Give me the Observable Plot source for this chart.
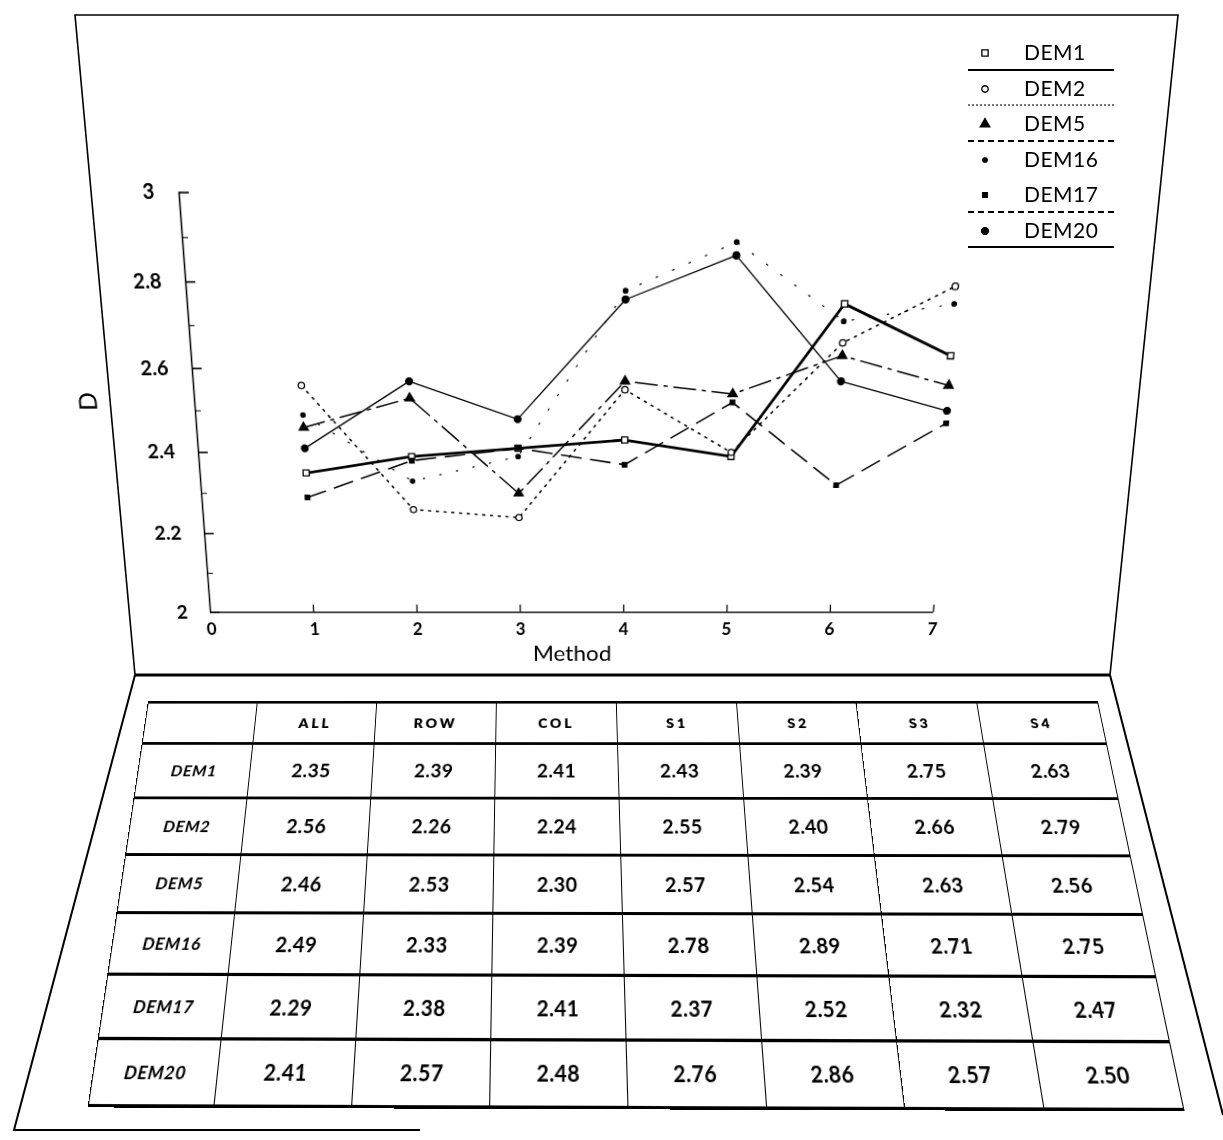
<!DOCTYPE html>
<html><head><meta charset="utf-8">
<script src="https://cdn.jsdelivr.net/npm/d3@7"></script>
<script src="https://cdn.jsdelivr.net/npm/@observablehq/plot@0.6"></script>
<style>
body{margin:0;background:#fff;font-family:"Lato","Noto Sans",sans-serif;color:#000;}
#page{position:relative;width:1223px;height:1140px;overflow:hidden;background:#fff;}
#upper{position:absolute;left:0;top:0;transform-origin:0 0;}
#lower{position:absolute;left:0;top:0;transform-origin:0 0;}
#frame{position:absolute;left:0;top:0;pointer-events:none;}
#legend{position:absolute;left:966px;top:36px;width:152px;}
.lrow{position:relative;height:35.5px;}
.lsym{position:absolute;left:12px;top:10px;}
.ltxt{position:absolute;left:58px;top:3px;font-size:21px;font-family:"Lato",sans-serif;letter-spacing:0.5px;}
.lrule{position:absolute;left:2px;right:4px;bottom:1px;height:0;}
#tbl{width:100%;height:100%;border-collapse:collapse;table-layout:fixed;}
#tbl td{border-left:1.3px solid #000;border-right:1.3px solid #000;border-top:3px solid #000;border-bottom:3px solid #000;text-align:center;padding:0;}
#tbl td.rl{font-style:italic;font-weight:700;font-size:17px;letter-spacing:0.6px;}
#tbl tr.hd td{font-weight:800;font-size:15px;letter-spacing:3px;}
#tbl td.v{font-weight:700;font-size:20px;letter-spacing:0.4px;}
</style></head>
<body>
<div id="page">
  <div id="upper"></div>
  <div id="lower"><table id="tbl"></table></div>
  <svg id="frame" width="1223" height="1140"></svg>
  <div id="legend"></div>
</div>
<script>
// ---- data ----
const methods = ["ALL", "ROW", "COL", "S1", "S2", "S3", "S4"];
const methodX = [1, 2, 3, 4, 5, 6, 7];
const seriesNames = ["DEM1", "DEM2", "DEM5", "DEM16", "DEM17", "DEM20"];
const DEM1  = [2.35, 2.39, 2.41, 2.43, 2.39, 2.75, 2.63];
const DEM2  = [2.56, 2.26, 2.24, 2.55, 2.40, 2.66, 2.79];
const DEM5  = [2.46, 2.53, 2.30, 2.57, 2.54, 2.63, 2.56];
const DEM16 = [2.49, 2.33, 2.39, 2.78, 2.89, 2.71, 2.75];
const DEM17 = [2.29, 2.38, 2.41, 2.37, 2.52, 2.32, 2.47];
const DEM20 = [2.41, 2.57, 2.48, 2.76, 2.86, 2.57, 2.50];
const seriesValues = [DEM1, DEM2, DEM5, DEM16, DEM17, DEM20];
const yMajor = [2, 2.2, 2.4, 2.6, 2.8, 3];
const yMajorLabels = ["2", "2.2", "2.4", "2.6", "2.8", "3"];
const yMinor = [2.1, 2.3, 2.5, 2.7, 2.9];
const xTickValues = [0, 1, 2, 3, 4, 5, 6, 7];

// ---- styles (kept apart from data) ----
const lineStyle = {
  DEM1:  {strokeWidth: 2.8, dash: null},
  DEM2:  {strokeWidth: 1.6, dash: "2,6"},
  DEM5:  {strokeWidth: 1.5, dash: "22,7,3,7"},
  DEM16: {strokeWidth: 1.2, dash: "1.5,16"},
  DEM17: {strokeWidth: 1.6, dash: "20,10"},
  DEM20: {strokeWidth: 1.3, dash: null}
};
const dotStyle = {
  DEM1:  {symbol: "square",   fill: "white", r: 3.5},
  DEM2:  {symbol: "circle",   fill: "white", r: 3.2},
  DEM5:  {symbol: "triangle", fill: "black", r: 3.5},
  DEM16: {symbol: "circle",   fill: "black", r: 2.2},
  DEM17: {symbol: "square",   fill: "black", r: 2.6},
  DEM20: {symbol: "circle",   fill: "black", r: 3.4}
};
const legendRule = {
  DEM1: "2px solid #000", DEM2: "2px dotted #777", DEM5: "2px dashed #000",
  DEM16: "none", DEM17: "2px dashed #000", DEM20: "2px solid #000"
};

// ---- perspective helpers (the page is a tilted scan) ----
function adj(m){return [m[4]*m[8]-m[5]*m[7], m[2]*m[7]-m[1]*m[8], m[1]*m[5]-m[2]*m[4],
  m[5]*m[6]-m[3]*m[8], m[0]*m[8]-m[2]*m[6], m[2]*m[3]-m[0]*m[5],
  m[3]*m[7]-m[4]*m[6], m[1]*m[6]-m[0]*m[7], m[0]*m[4]-m[1]*m[3]];}
function mm(a,b){const c=[];for(let i=0;i<3;i++)for(let j=0;j<3;j++){let s=0;for(let k=0;k<3;k++)s+=a[3*i+k]*b[3*k+j];c[3*i+j]=s;}return c;}
function mv(m,v){return [m[0]*v[0]+m[1]*v[1]+m[2]*v[2], m[3]*v[0]+m[4]*v[1]+m[5]*v[2], m[6]*v[0]+m[7]*v[1]+m[8]*v[2]];}
function basis(p){const m=[p[0],p[2],p[4],p[1],p[3],p[5],1,1,1];const v=mv(adj(m),[p[6],p[7],1]);return mm(m,[v[0],0,0,0,v[1],0,0,0,v[2]]);}
function proj(src,dst){return mm(basis(dst), adj(basis(src)));}
function apply(M,x,y){const r=mv(M,[x,y,1]);return [r[0]/r[2], r[1]/r[2]];}
function toQuad(el,w,h,dst){
  let t=proj([0,0,w,0,0,h,w,h],dst);
  for(let i=0;i<9;i++) t[i]=t[i]/t[8];
  el.style.width=w+"px"; el.style.height=h+"px";
  el.style.transform="matrix3d("+[t[0],t[3],0,t[6],t[1],t[4],0,t[7],0,0,1,0,t[2],t[5],0,t[8]].join(",")+")";
}

// ---- upper panel: chart ----
const W1 = 1040, H1 = 660;
const upperQuad = [75,15, 1178,15, 135,675, 1110,675];
const inv1 = proj(upperQuad, [0,0,W1,0,0,H1,W1,H1]);
const pBL = apply(inv1, 210, 612), pTL = apply(inv1, 168, 192), pBR = apply(inv1, 933, 612);
const pD = apply(inv1, 90, 420), pM = apply(inv1, 572, 660);
const mL = pBL[0], mB = H1 - pBL[1], mT = pTL[1], mR = W1 - pBR[0];

const rows = seriesNames.flatMap((name, si) =>
  methodX.map((x, i) => ({series: name, method: methods[i], x, D: seriesValues[si][i]})));

const marks = [
  Plot.ruleX([0], {strokeWidth: 1.5}),
  Plot.ruleY([2], {strokeWidth: 1.5}),
  Plot.axisY({ticks: yMajor, tickSize: -10, tickFormat: () => "", label: null, strokeWidth: 1.6}),
  Plot.axisY({ticks: yMinor, tickSize: -6, tickFormat: () => "", label: null}),
  Plot.axisY({ticks: yMajor, tickSize: 0, tickPadding: 24, label: null,
    tickFormat: d => yMajorLabels[yMajor.indexOf(d)], fontSize: 20, fontWeight: 700}),
  Plot.axisX({ticks: methodX, tickSize: -8, tickFormat: () => "", label: null, strokeWidth: 1.3}),
  Plot.axisX({ticks: xTickValues, tickSize: 0, tickPadding: 12, label: null,
    tickFormat: d3.format("d"), fontSize: 18, fontWeight: 700}),
  Plot.text(["D"], {frameAnchor: "left", dx: pD[0] - mL, rotate: -90, fontSize: 25}),
  Plot.text(["Method"], {frameAnchor: "bottom", dy: pM[1] - (H1 - mB), fontSize: 24})
];
for (const name of seriesNames) {
  const d = rows.filter(r => r.series === name);
  const ls = lineStyle[name], ds = dotStyle[name];
  marks.push(Plot.line(d, {x: "x", y: "D", stroke: "black", strokeWidth: ls.strokeWidth,
    strokeDasharray: ls.dash, strokeLinecap: "round"}));
  marks.push(Plot.dot(d, {x: "x", y: "D", symbol: () => ds.symbol, r: ds.r,
    fill: ds.fill, stroke: "black", strokeWidth: 1.3}));
}
const chart = Plot.plot({
  width: W1, height: H1,
  marginLeft: mL, marginRight: mR, marginTop: mT, marginBottom: mB,
  x: {domain: [0, 7]},
  y: {domain: [2, 3]},
  symbol: {type: "identity"},
  style: {fontFamily: "Lato, 'Noto Sans', sans-serif", background: "transparent", color: "black", overflow: "visible"},
  marks
});
const upper = document.getElementById("upper");
upper.appendChild(chart);
toQuad(upper, W1, H1, upperQuad);

// ---- frame (decoration) ----
const fr = d3.select("#frame");
const fl = (pts, w) => fr.append("polyline").attr("points", pts).attr("fill", "none")
  .attr("stroke", "#000").attr("stroke-width", w);
fl("135,675 75,15 1178,15 1110,675", 1.6);
fl("135,675 1110,675", 3);
fl("135,675 14,1130 420,1130", 2);
fl("1110,675 1223,1115", 2);

// ---- legend ----
const lg = d3.select("#legend");
for (const name of seriesNames) {
  const row = lg.append("div").attr("class", "lrow");
  const ds = dotStyle[name];
  const svg = row.append("svg").attr("class", "lsym").attr("width", 14).attr("height", 14);
  const sym = d3.symbol().type(ds.symbol === "square" ? d3.symbolSquare :
    ds.symbol === "triangle" ? d3.symbolTriangle : d3.symbolCircle).size(ds.r * ds.r * 3.2);
  svg.append("path").attr("d", sym()).attr("transform", "translate(7,7)")
    .attr("fill", ds.fill).attr("stroke", "#000").attr("stroke-width", 1.3);
  row.append("span").attr("class", "ltxt").text(name);
  row.append("div").attr("class", "lrule").style("border-bottom", legendRule[name]);
}

// ---- lower panel: table ----
const W2 = 1020, H2 = 406;
const tbl = d3.select("#tbl");
const colW = [118].concat(methods.map(() => 128.9));
const cg = tbl.append("colgroup");
colW.forEach(w => cg.append("col").style("width", w + "px"));
const hd = tbl.append("tr").attr("class", "hd").style("height", "47px");
hd.append("td");
methods.forEach(m => hd.append("td").text(m));
seriesNames.forEach((name, si) => {
  const tr = tbl.append("tr").style("height", "59.8px");
  tr.append("td").attr("class", "rl").text(name);
  seriesValues[si].forEach(v => tr.append("td").attr("class", "v").text(v.toFixed(2)));
});
toQuad(document.getElementById("lower"), W2, H2, [148,701, 1097,701, 88,1104, 1183,1108]);
</script>
</body></html>
